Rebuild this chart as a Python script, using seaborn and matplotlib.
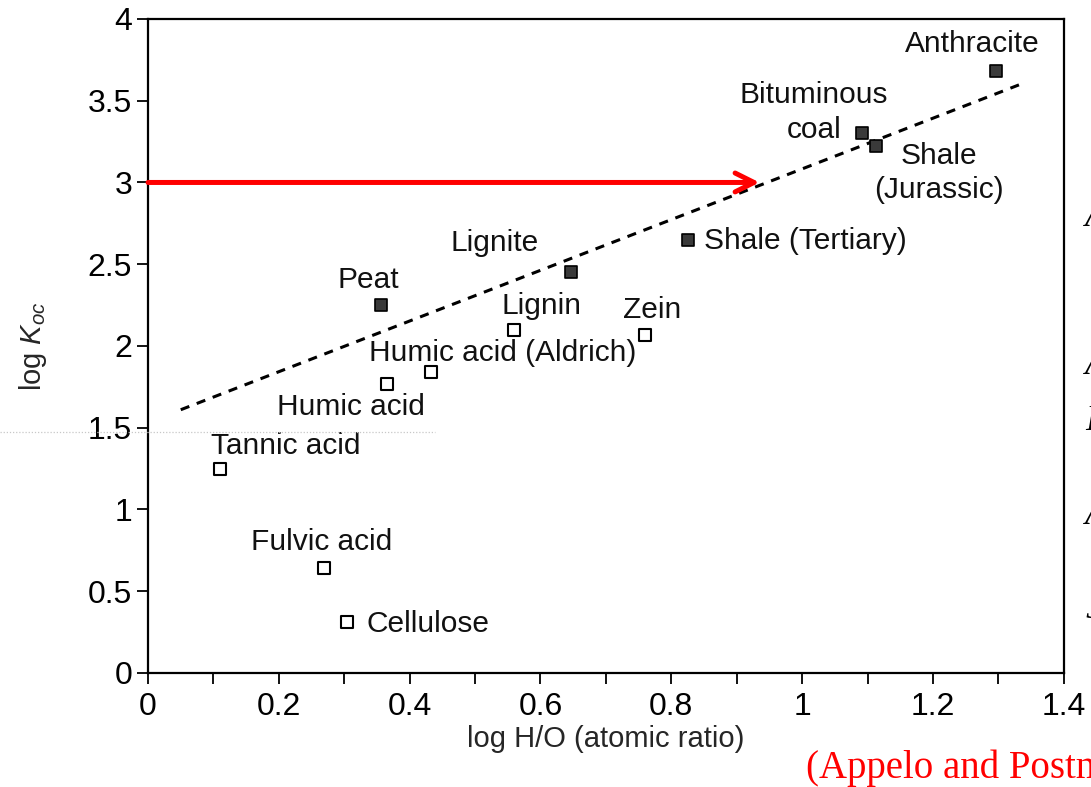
import numpy as np
import pandas as pd
import seaborn as sns
import matplotlib
matplotlib.use('Agg')
import matplotlib.pyplot as plt
from matplotlib.lines import Line2D
from matplotlib.ticker import MultipleLocator, FormatStrFormatter

# sorbent data: log H/O vs log Koc
names = ['Tannic acid', 'Fulvic acid', 'Cellulose', 'Humic acid', 'Humic acid (Aldrich)',
         'Lignin', 'Zein', 'Peat', 'Lignite', 'Shale (Tertiary)', 'Bituminous\ncoal',
         'Shale\n(Jurassic)', 'Anthracite']
log_ho = [0.110, 0.269, 0.304, 0.366, 0.432, 0.560, 0.760, 0.356, 0.646, 0.826, 1.092, 1.113, 1.296]
log_koc = [1.25, 0.64, 0.31, 1.77, 1.84, 2.10, 2.07, 2.25, 2.45, 2.65, 3.30, 3.22, 3.68]
kind = ['open'] * 7 + ['filled'] * 6

# label offsets (points) relative to each marker, and horizontal alignment
label_dx = [47.5, -1.5, 14, -26, 52, 19.5, 5, -9, -55, 11, -35, 45, -17]
label_dy = [16.5, 19, -1, -17, 14, 17, 18, 18, 21, -1, 15, -19, 19.5]
label_ha = ['center', 'center', 'left', 'center', 'center', 'center', 'center',
            'center', 'center', 'left', 'center', 'center', 'center']

# fitted trend line and the read-off arrow at log Koc = 3
trend_x = [0.05, 1.34]
trend_y = [1.61, 3.61]
arrow_y = 3.0
arrow_x_end = 0.935

df = pd.DataFrame({'log_ho': log_ho, 'log_koc': log_koc, 'kind': kind})

sns.set_theme(style='ticks')
plt.rcParams['font.family'] = ['Liberation Sans', 'DejaVu Sans']
plt.rcParams['mathtext.fontset'] = 'custom'
plt.rcParams['mathtext.rm'] = 'Liberation Sans'
plt.rcParams['mathtext.it'] = 'Liberation Sans:italic'

fig = plt.figure(figsize=(10.91, 7.87), dpi=100)
ax = fig.add_axes([0.1357, 0.1449, 0.8393, 0.831])

ax.plot(trend_x, trend_y, color='black', lw=2.2, ls=(0, (3, 2.6)), zorder=2)

sns.scatterplot(data=df[df['kind'] == 'open'], x='log_ho', y='log_koc', marker='s', s=70,
                color='white', edgecolor='black', linewidth=1.5, ax=ax, zorder=3, legend=False)
sns.scatterplot(data=df[df['kind'] == 'filled'], x='log_ho', y='log_koc', marker='s', s=80,
                color='#3a3a3a', edgecolor='black', linewidth=1.2, ax=ax, zorder=3, legend=False)

for n, x, y, dx, dy, ha in zip(names, log_ho, log_koc, label_dx, label_dy, label_ha):
    ax.annotate(n, (x, y), xytext=(dx, dy), textcoords='offset points', ha=ha, va='center',
                fontsize=21.5, linespacing=1.3, multialignment='center', color='#111111')

ax.annotate('', xy=(arrow_x_end, arrow_y), xytext=(0, arrow_y),
            arrowprops=dict(arrowstyle='->', color='red', lw=3.6, mutation_scale=34,
                            shrinkA=0, shrinkB=0), zorder=4)

ax.set_xlim(0, 1.4)
ax.set_ylim(0, 4)
ax.xaxis.set_major_locator(MultipleLocator(0.2))
ax.xaxis.set_minor_locator(MultipleLocator(0.1))
ax.yaxis.set_major_locator(MultipleLocator(0.5))
ax.xaxis.set_major_formatter(FormatStrFormatter('%g'))
ax.yaxis.set_major_formatter(FormatStrFormatter('%g'))
ax.tick_params(which='both', direction='out', length=8, width=1.3, labelsize=23,
               top=False, right=False, color='black', labelcolor='black')
ax.tick_params(axis='x', pad=6)
for s in ax.spines.values():
    s.set_linewidth(1.6)
    s.set_color('black')

ax.set_xlabel('log H/O (atomic ratio)', fontsize=21, labelpad=2)
ax.set_ylabel(r'log $\mathit{K}_{\mathit{oc}}$', fontsize=21, labelpad=28)

# citation in red, running off the right edge like the slide crop
fig.text(806 / 1091, 1 - 768 / 787, '(Appelo and Postma, 2005)', color='red',
         family='Liberation Serif', fontsize=28, va='center', ha='left')

# clipped italic slide text at the right edge
for yy, ch in [(218, 'A'), (365, 'A'), (422, 'R'), (515, 'A'), (610, 'J')]:
    fig.text(1085 / 1091, 1 - yy / 787, ch, family='Liberation Serif', style='italic',
             fontsize=26, va='center', ha='left', color='black')

# faint scan artefact line
fig.add_artist(Line2D([0, 435 / 1091], [1 - 432 / 787] * 2, color='#c8c8c8', lw=0.9,
                      ls=(0, (1, 1.5)), transform=fig.transFigure))

fig.savefig('out.png', dpi=100, facecolor='white')
